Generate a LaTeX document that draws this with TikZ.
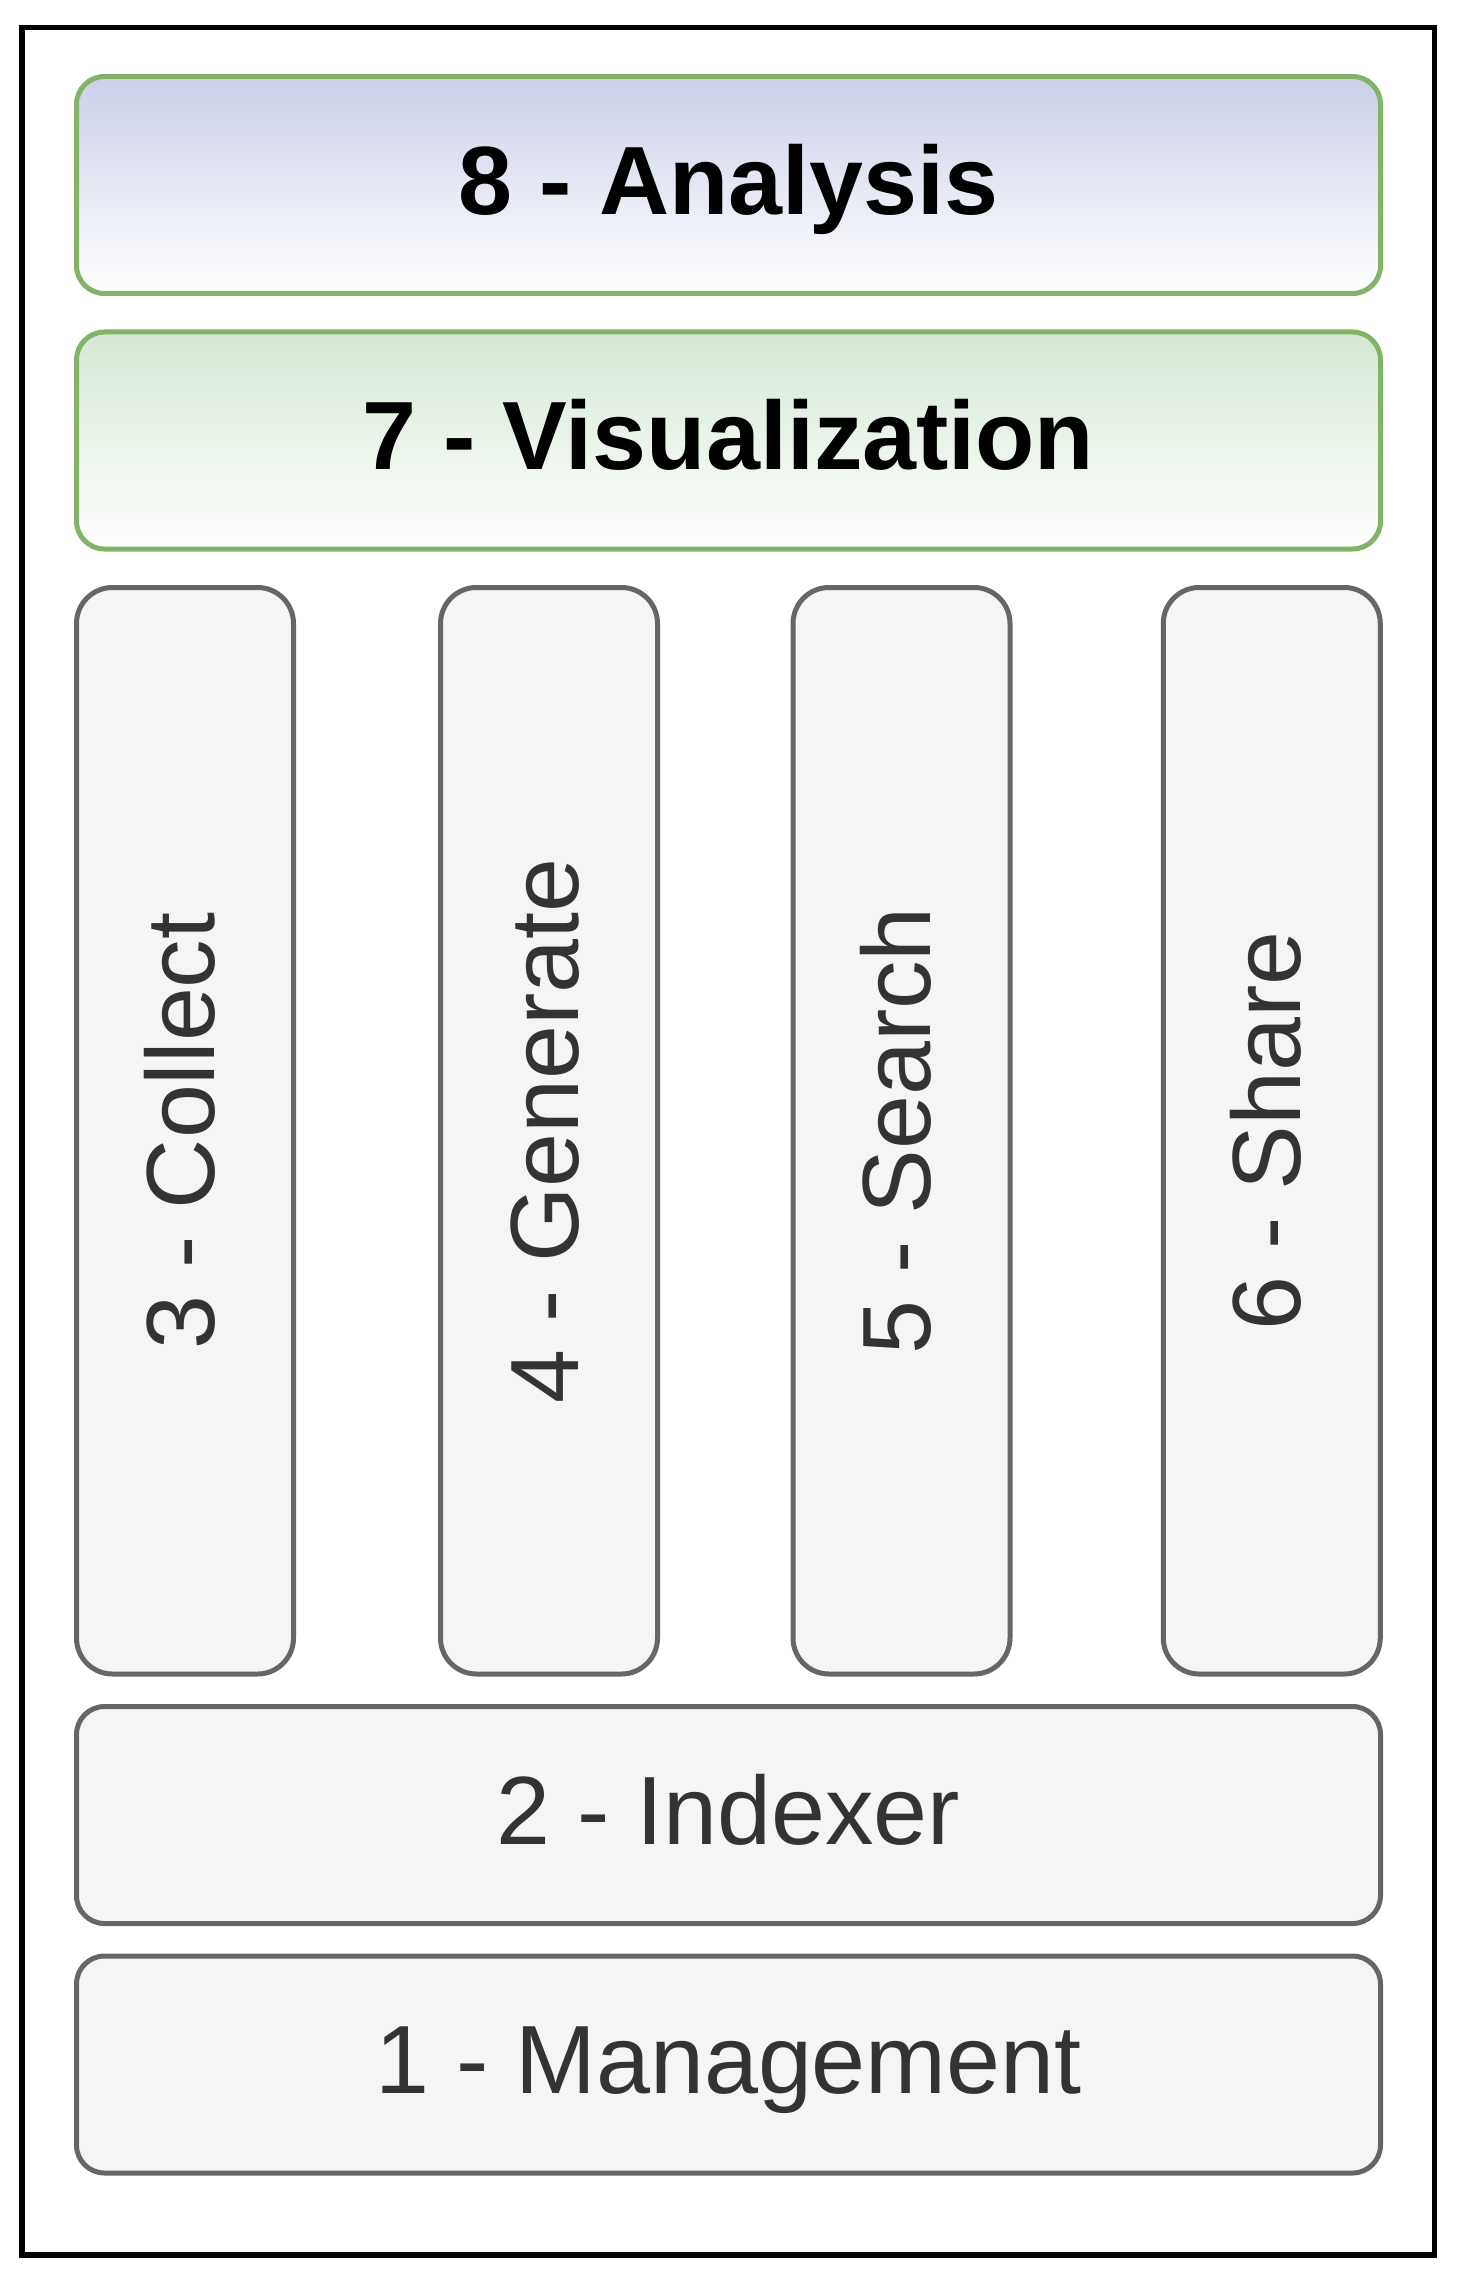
\documentclass[tikz,border=0pt]{standalone}
\usepackage{fontspec}
\setmainfont{Liberation Sans}
\definecolor{grayfill}{HTML}{F5F5F5}
\definecolor{graystroke}{HTML}{666666}
\definecolor{graytext}{HTML}{333333}
\definecolor{greenstroke}{HTML}{82B366}
\definecolor{greentop}{HTML}{D5E8D4}
\definecolor{lavtop}{HTML}{CBD0E8}
\begin{document}
\begin{tikzpicture}[x=0.5pt,y=-0.5pt,
  every node/.style={inner sep=0pt,outer sep=0pt},
  labelfont/.style={font=\fontsize{48.5}{58}\selectfont,text height=34.7pt,text depth=5.5pt},
  hbox/.style={rectangle,rounded corners=14pt,line width=2.5pt,
    minimum width=652pt,minimum height=108.5pt,labelfont},
  vbox/.style={rectangle,rounded corners=18pt,line width=2.5pt,rotate=90,
    minimum width=543.25pt,minimum height=108.5pt,labelfont},
  graybox/.style={draw=graystroke,fill=grayfill,text=graytext},
  greenbox/.style={draw=greenstroke,top color=greentop,bottom color=white,text=black,font=\fontsize{48.5}{58}\selectfont\bfseries},
  lavbox/.style={draw=greenstroke,top color=lavtop,bottom color=white,text=black,font=\fontsize{48.5}{58}\selectfont\bfseries}
]
\useasboundingbox (0,0) rectangle (1466,2295);
\fill[white] (0,0) rectangle (1466,2295);
\draw[line width=2.75pt,black] (22,27.5) rectangle (1434.5,2255);

\node[hbox,lavbox]   (analysis) at (728.5,185)    {8 - Analysis};
\node[hbox,greenbox] (visual)   at (728.5,440.5)  {7 - Visualization};
\node[vbox,graybox]  (collect)  at (185,1130.75)    {3 - Collect};
\node[vbox,graybox]  (generate) at (549,1130.75)    {4 - Generate};
\node[vbox,graybox]  (search)   at (901.5,1130.75)  {5 - Search};
\node[vbox,graybox]  (share)    at (1271.75,1130.75) {6 - Share};
\node[hbox,graybox]  (indexer)  at (728.5,1815)   {2 - Indexer};
\node[hbox,graybox]  (mgmt)     at (728.5,2064.5) {1 - Management};
\end{tikzpicture}
\end{document}
